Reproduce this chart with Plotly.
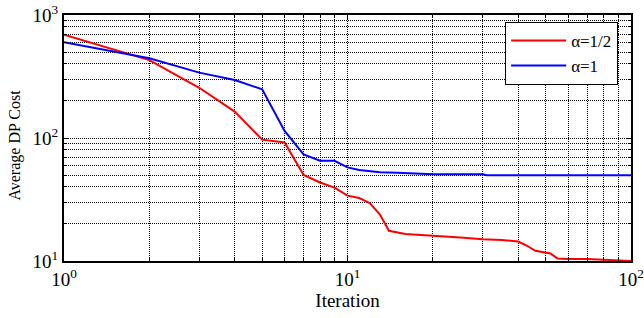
import plotly.graph_objects as go

# Data
red_x = [1, 2, 3, 4, 5, 6, 7, 8, 9, 10, 11, 12, 13, 14, 16, 20, 25, 30, 35, 40, 43, 46, 50, 52, 55, 60, 70, 80, 90, 100]
red_y = [690, 430, 256, 164, 97, 92, 50, 43.5, 39.5, 34, 32.5, 29.5, 24, 17.6, 16.6, 16.1, 15.5, 15.0, 14.8, 14.4, 13.3, 12.1, 11.7, 11.5, 10.5, 10.4, 10.4, 10.3, 10.1, 10.0]
blue_x = [1, 2, 3, 4, 5, 6, 7, 8, 9, 10, 11, 13, 15, 17.5, 20, 30, 31, 100]
blue_y = [600, 445, 340, 296, 249, 114, 73.6, 65.3, 65.3, 57.7, 55, 52.6, 52.1, 51.2, 50.7, 50.7, 49.8, 49.8]

x_tickvals = [1, 10, 100]
x_ticktext = ["10<sup>0</sup>", "10<sup>1</sup>", "10<sup>2</sup>"]
y_tickvals = [10, 100, 1000]
y_ticktext = ["10<sup>1</sup>", "10<sup>2</sup>", "10<sup>3</sup>"]
x_minor = [2, 3, 4, 5, 6, 7, 8, 9, 20, 30, 40, 50, 60, 70, 80, 90]
y_minor = [20, 30, 40, 50, 60, 70, 80, 90, 200, 300, 400, 500, 600, 700, 800, 900]

FONT = "Liberation Serif, Times New Roman, serif"
GRID = "#000000"
GDASH = "1px,1px"

fig = go.Figure()
fig.add_trace(go.Scatter(x=red_x, y=red_y, mode="lines", name="\u03b1=1/2",
                         line=dict(color="#ff0000", width=2)))
fig.add_trace(go.Scatter(x=blue_x, y=blue_y, mode="lines", name="\u03b1=1",
                         line=dict(color="#0000ff", width=2)))

axis_common = dict(
    type="log",
    automargin=False,
    showline=True, linecolor="black", linewidth=2, mirror="ticks",
    ticks="inside", ticklen=5, tickcolor="black",
    showgrid=True, gridcolor=GRID, gridwidth=1, griddash=GDASH,
    zeroline=False,
    tickfont=dict(family=FONT, size=19, color="black"),
    tickmode="array",
)

fig.update_xaxes(
    **axis_common,
    range=[0, 2],
    tickvals=x_tickvals, ticktext=x_ticktext,
    minor=dict(tickmode="array", tickvals=x_minor, ticks="inside", ticklen=3,
               tickcolor="black", showgrid=True, gridcolor=GRID,
               griddash=GDASH, gridwidth=1),
    title=dict(text="Iteration", font=dict(family=FONT, size=19, color="black"), standoff=4),
)
fig.update_yaxes(
    **axis_common,
    range=[1, 3],
    tickvals=y_tickvals, ticktext=y_ticktext,
    minor=dict(tickmode="array", tickvals=y_minor, ticks="inside", ticklen=3,
               tickcolor="black", showgrid=True, gridcolor=GRID,
               griddash=GDASH, gridwidth=1),
)

fig.add_annotation(text="Average DP Cost", textangle=-90, showarrow=False,
                   xref="paper", yref="paper", x=-0.086, y=0.47,
                   xanchor="center", yanchor="middle",
                   font=dict(family=FONT, size=16, color="black"))

fig.update_layout(
    width=644, height=318,
    margin=dict(l=64, r=13, t=15, b=57, autoexpand=False),
    plot_bgcolor="white", paper_bgcolor="white",
    font=dict(family=FONT, color="black"),
    legend=dict(x=0.778, y=0.972, xanchor="left", yanchor="top",
                bgcolor="white", bordercolor="black", borderwidth=1,
                font=dict(family=FONT, size=17, color="black"),
                itemwidth=55,
                tracegroupgap=0),
    showlegend=True,
)

fig.write_html("out.html",
               config={"displayModeBar": False},
               post_script="document.body.style.margin='0px';document.body.style.overflow='hidden';")
